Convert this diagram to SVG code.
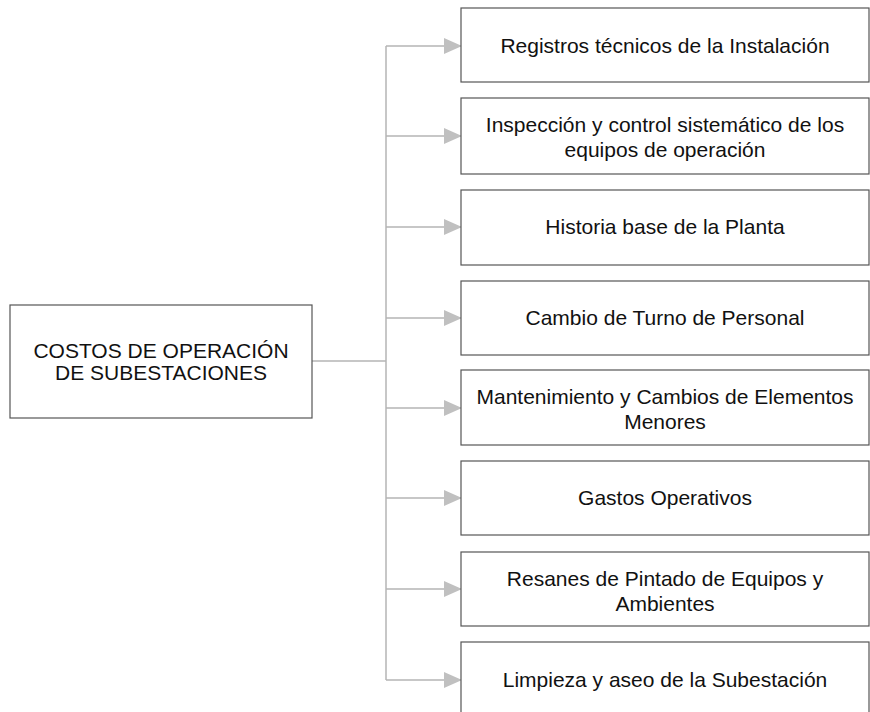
<svg xmlns="http://www.w3.org/2000/svg" width="870" height="712" viewBox="0 0 870 712">
<defs>
<style>
.box{fill:#fff;stroke:#555;stroke-width:1.2}
.t{font-family:"Liberation Sans",Arial,sans-serif;font-size:21px;fill:#111;text-anchor:middle}
.c{fill:none;stroke:#b4b4b4;stroke-width:1.5}
</style>
<marker id="ah" markerWidth="18" markerHeight="16" refX="17" refY="8" orient="auto" markerUnits="userSpaceOnUse">
<path d="M0,0 L18,8 L0,16 Z" fill="#c0c0c0"/>
</marker>
</defs>
<rect width="870" height="712" fill="#fff"/>
<g id="connectors">
<path class="c" d="M312,361 H386"/>
<path class="c" d="M386,46 V680"/>
<path class="c" d="M386,46 H461" marker-end="url(#ah)"/>
<path class="c" d="M386,136 H461" marker-end="url(#ah)"/>
<path class="c" d="M386,227 H461" marker-end="url(#ah)"/>
<path class="c" d="M386,318 H461" marker-end="url(#ah)"/>
<path class="c" d="M386,408 H461" marker-end="url(#ah)"/>
<path class="c" d="M386,498 H461" marker-end="url(#ah)"/>
<path class="c" d="M386,589 H461" marker-end="url(#ah)"/>
<path class="c" d="M386,680 H461" marker-end="url(#ah)"/>
</g>
<g id="root">
<rect class="box" x="10" y="305" width="302" height="113"/>
<text class="t" x="161" y="358">COSTOS DE OPERACIÓN</text>
<text class="t" x="161" y="380">DE SUBESTACIONES</text>
</g>
<g id="n1">
<rect class="box" x="461" y="8" width="408" height="74"/>
<text class="t" x="665" y="53">Registros técnicos de la Instalación</text>
</g>
<g id="n2">
<rect class="box" x="461" y="98" width="408" height="76"/>
<text class="t" x="665" y="132">Inspección y control sistemático de los</text>
<text class="t" x="665" y="157">equipos de operación</text>
</g>
<g id="n3">
<rect class="box" x="461" y="190" width="408" height="75"/>
<text class="t" x="665" y="234">Historia base de la Planta</text>
</g>
<g id="n4">
<rect class="box" x="461" y="281" width="408" height="74"/>
<text class="t" x="665" y="325">Cambio de Turno de Personal</text>
</g>
<g id="n5">
<rect class="box" x="461" y="370" width="408" height="75"/>
<text class="t" x="665" y="404">Mantenimiento y Cambios de Elementos</text>
<text class="t" x="665" y="429">Menores</text>
</g>
<g id="n6">
<rect class="box" x="461" y="461" width="408" height="74"/>
<text class="t" x="665" y="505">Gastos Operativos</text>
</g>
<g id="n7">
<rect class="box" x="461" y="552" width="408" height="74"/>
<text class="t" x="665" y="586">Resanes de Pintado de Equipos y</text>
<text class="t" x="665" y="611">Ambientes</text>
</g>
<g id="n8">
<rect class="box" x="461" y="642" width="408" height="76"/>
<text class="t" x="665" y="687">Limpieza y aseo de la Subestación</text>
</g>
</svg>
